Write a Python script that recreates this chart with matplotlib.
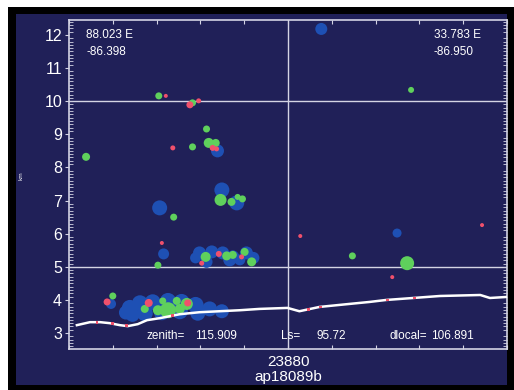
import numpy as np
import matplotlib.pyplot as plt
from matplotlib.patches import Rectangle
from matplotlib.ticker import MultipleLocator

NAVY = '#202058'
BLUE = '#1e50b4'
GREEN = '#5fd05c'
RED = '#f0506c'
LINE = '#d4d4e4'

# blue blobs: x, y, radius (px)
blue_x = [1.30, 1.39, 1.62, 1.91, 2.26, 2.57, 2.89, 3.21, 3.49, 1.73, 2.12, 2.53, 2.94, 1.45, 0.96,
          2.98, 3.26, 3.51, 3.74, 4.05, 4.21, 3.14, 3.67, 2.89, 3.90,
          3.49, 3.83, 2.07, 3.39, 2.16, 5.76, 7.49]
blue_y = [3.62, 3.76, 3.90, 3.93, 3.97, 3.94, 3.85, 3.73, 3.66, 3.60, 3.63, 3.66, 3.60, 3.55, 3.88,
          5.42, 5.45, 5.42, 5.30, 5.42, 5.27, 5.15, 5.21, 5.27, 5.21,
          7.32, 6.93, 6.78, 8.50, 5.39, 12.18, 6.02]
blue_r = [7, 8, 8, 8, 8, 8, 8, 7.5, 7, 8, 8, 8, 7.5, 7, 5,
          6.5, 6.5, 6.5, 6.5, 6.5, 6, 6, 6.5, 5.5, 5.5,
          7.5, 7.5, 7.5, 6.5, 5.5, 6, 4.5]

green_x = [1.00, 1.73, 2.14, 2.46, 2.26, 2.69, 2.03, 2.53,
           3.12, 3.60, 3.74, 4.01, 4.17, 2.03, 6.47, 7.72,
           3.46, 3.71, 3.96, 3.85, 2.39,
           3.19, 3.35, 3.14, 2.82, 2.05, 2.82, 0.39, 7.81]
green_y = [4.12, 3.73, 3.97, 3.97, 3.69, 3.88, 3.69, 3.73,
           5.30, 5.33, 5.36, 5.45, 5.15, 5.05, 5.33, 5.11,
           7.02, 6.96, 7.05, 7.11, 6.50,
           8.74, 8.74, 9.16, 8.62, 10.16, 9.95, 8.32, 10.34]
green_r = [3.5, 4, 3.5, 4, 8, 6, 5, 5,
           5, 4.5, 4, 4, 4.5, 3.5, 3.5, 7,
           6, 4, 3.5, 3, 3.5,
           5, 4, 3.5, 3.5, 3.5, 3.5, 4, 3]

red_x = [0.87, 1.82, 2.71, 3.03, 3.42, 3.94, 2.12, 5.28, 7.38, 9.43,
         3.28, 3.37, 2.37, 2.21, 2.76, 2.96]
red_y = [3.94, 3.91, 3.91, 5.11, 5.39, 5.30, 5.72, 5.93, 4.69, 6.26,
         8.59, 8.56, 8.59, 10.16, 9.89, 10.01]
red_r = [3.5, 4, 3.5, 2.5, 3, 2.5, 2, 2, 2, 2,
         3, 2.5, 2.5, 2, 3.5, 2.5]

# surface line
surf_x = [0.18, 0.48, 0.71, 0.93, 1.16, 1.34, 1.57, 1.78, 2.07, 2.53, 2.98, 3.44, 3.90,
          4.35, 4.99, 5.26, 5.72, 6.40, 6.86, 7.24, 7.86, 8.47, 9.39, 9.61, 9.98]
surf_y = [3.24, 3.33, 3.33, 3.30, 3.24, 3.21, 3.27, 3.39, 3.45, 3.57, 3.63, 3.66, 3.69,
          3.73, 3.76, 3.66, 3.79, 3.88, 3.94, 4.00, 4.06, 4.12, 4.15, 4.06, 4.09]
surf_red_x = [0.64, 1.00, 1.32, 2.37, 5.47, 5.74, 7.27, 7.88]
surf_red_y = [3.33, 3.30, 3.22, 3.52, 3.72, 3.79, 4.00, 4.06]


def size(r):
    return (1.44 * np.array(r)) ** 2


fig = plt.figure(figsize=(5.14, 3.9), dpi=100, facecolor='white')
fig.patches.append(Rectangle((8 / 514, 0), 506 / 514, 383 / 390, transform=fig.transFigure,
                             facecolor='black', zorder=-2))
fig.patches.append(Rectangle((16 / 514, 5 / 390), 491 / 514, 371 / 390, transform=fig.transFigure,
                             facecolor=NAVY, zorder=-1))

ax = fig.add_axes([69 / 514, 41 / 390, 438 / 514, 329 / 390])
ax.set_facecolor(NAVY)
ax.set_xlim(0, 10)
ax.set_ylim(2.52, 12.45)

ax.axhline(10, color=LINE, lw=1, zorder=1)
ax.axhline(5, color=LINE, lw=1, zorder=1)
ax.axvline(5, color=LINE, lw=1, zorder=1)

ax.scatter(blue_x, blue_y, s=size(blue_r), c=BLUE, edgecolors='none', zorder=2)
ax.scatter(green_x, green_y, s=size(green_r), c=GREEN, edgecolors='none', zorder=3)
ax.scatter(red_x, red_y, s=size(red_r), c=RED, edgecolors='none', zorder=4)

ax.plot(surf_x, surf_y, color='white', lw=1.8, zorder=5)
ax.scatter(surf_red_x, surf_red_y, s=4, c=RED, marker='s', edgecolors='none', zorder=6)

for s in ax.spines.values():
    s.set_color(LINE)
    s.set_linewidth(1.2)

ax.set_xticks(np.arange(0, 11, 1))
ax.set_xticklabels(['' if i != 5 else '23880' for i in range(11)])
ax.set_yticks(range(3, 13))
ax.yaxis.set_minor_locator(MultipleLocator(0.1))
ax.tick_params(axis='x', which='major', direction='in', length=3, color=LINE,
               top=True, bottom=True, labelsize=11, labelcolor='white', pad=4)
ax.tick_params(axis='y', which='major', direction='out', length=3, color=LINE,
               left=True, right=False, labelsize=11.5, labelcolor='white', pad=2)
ax.tick_params(axis='y', which='minor', direction='in', length=3, width=0.6, color=LINE,
               left=True, right=True)
ax.set_xlabel('ap18089b', color='white', fontsize=11, labelpad=1)

for lab in ax.get_xticklabels() + ax.get_yticklabels() + [ax.xaxis.label]:
    lab.set_family('Liberation Sans')

tkw = dict(transform=ax.transAxes, color='white', fontsize=8.5, family='Liberation Sans', va='center')
ax.text(0.039, 0.954, '88.023 E', **tkw)
ax.text(0.039, 0.903, '-86.398', **tkw)
ax.text(0.833, 0.954, '33.783 E', **tkw)
ax.text(0.833, 0.903, '-86.950', **tkw)
ax.text(0.176, 0.040, 'zenith=', **tkw)
ax.text(0.288, 0.040, '115.909', **tkw)
ax.text(0.484, 0.040, 'Ls=', **tkw)
ax.text(0.566, 0.040, '95.72', **tkw)
ax.text(0.731, 0.040, 'dlocal=', **tkw)
ax.text(0.826, 0.040, '106.891', **tkw)

fig.text(0.036, 0.55, 'km', rotation=90, color='white', fontsize=4, va='center')

fig.savefig('out.png', dpi=100, facecolor='white')
